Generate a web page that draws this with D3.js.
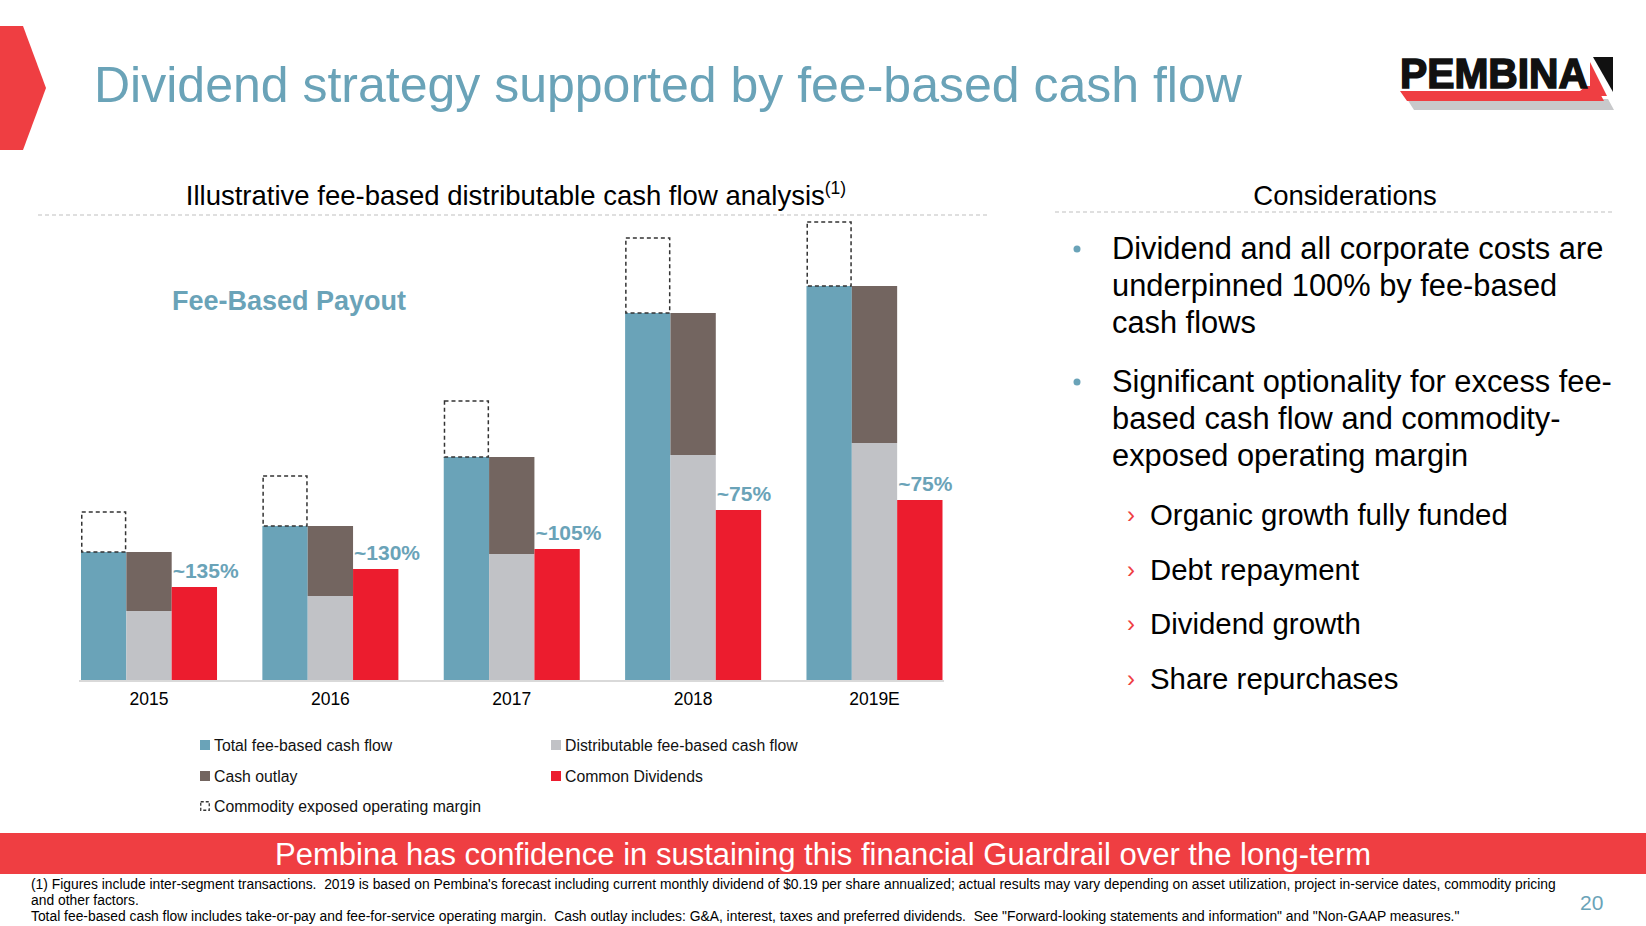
<!DOCTYPE html>
<html>
<head>
<meta charset="utf-8">
<script src="https://cdn.jsdelivr.net/npm/d3@7"></script>
<style>
  body { margin: 0; background: #fff; }
  text { font-family: "Liberation Sans", Arial, sans-serif; }
</style>
</head>
<body>
<div id="slide"></div>
<script>
// chart values (relative units)
const years = ["2015", "2016", "2017", "2018", "2019E"];
const totalFee = [1.29, 1.55, 2.24, 3.68, 3.95];
const distributable = [0.70, 0.85, 1.27, 2.26, 2.38];
const cashOutlay = [0.59, 0.70, 0.97, 1.42, 1.57];
const commodity = [0.40, 0.50, 0.56, 0.75, 0.64];
const dividends = [0.94, 1.12, 1.32, 1.71, 1.81];
const payoutLabels = ["~135%", "~130%", "~105%", "~75%", "~75%"];

const legendItems = [
  {name: "Total fee-based cash flow", key: "teal"},
  {name: "Distributable fee-based cash flow", key: "gray"},
  {name: "Cash outlay", key: "brown"},
  {name: "Common Dividends", key: "red"},
  {name: "Commodity exposed operating margin", key: "dash"}
];

const bullets = [
  ["Dividend and all corporate costs are", "underpinned 100% by fee-based", "cash flows"],
  ["Significant optionality for excess fee-", "based cash flow and commodity-", "exposed operating margin"]
];
const subBullets = ["Organic growth fully funded", "Debt repayment", "Dividend growth", "Share repurchases"];

const footnotes = [
  "(1) Figures include inter-segment transactions.  2019 is based on Pembina's forecast including current monthly dividend of $0.19 per share annualized; actual results may vary depending on asset utilization, project in-service dates, commodity pricing",
  "and other factors.",
  "Total fee-based cash flow includes take-or-pay and fee-for-service operating margin.  Cash outlay includes: G&A, interest, taxes and preferred dividends.  See \"Forward-looking statements and information\" and \"Non-GAAP measures.\""
];

const colors = {teal: "#6aa3b8", gray: "#c1c2c6", brown: "#736560", red: "#ec1c2e"};
const accent = "#6aa3b8";
const bannerRed = "#ef3e42";

const W = 1646, H = 926;
const svg = d3.select("#slide").append("svg")
  .attr("width", W)
  .attr("height", H);

svg.append("rect").attr("width", W).attr("height", H).attr("fill", "#fff");

// header
svg.append("polygon")
  .attr("points", "0,26 23,26 46,88 23,150 0,150")
  .attr("fill", bannerRed);

svg.append("text")
  .attr("x", 94).attr("y", 102)
  .attr("font-size", 50)
  .attr("fill", accent)
  .text("Dividend strategy supported by fee-based cash flow");

// logo
const logo = svg.append("g");
logo.append("polygon").attr("points", "1407,99 1608,99 1614,110 1414,110").attr("fill", "#c8c9cb");
logo.append("polygon").attr("points", "1400,91 1580,91 1586,86 1596,86 1604,101 1407,101").attr("fill", bannerRed);
logo.append("polygon").attr("points", "1593,57 1613,57 1613,92").attr("fill", "#111");
logo.append("polygon").attr("points", "1590,62 1607,96 1590,96").attr("fill", bannerRed);
logo.append("text")
  .attr("x", 1400).attr("y", 88)
  .attr("font-size", 42).attr("font-weight", "bold")
  .attr("fill", "#111").attr("stroke", "#111").attr("stroke-width", 1.6)
  .attr("textLength", 188).attr("lengthAdjust", "spacingAndGlyphs")
  .text("PEMBINA");

// section headings
const chartTitle = svg.append("text")
  .attr("x", 516).attr("y", 205)
  .attr("text-anchor", "middle")
  .attr("font-size", 27.5)
  .attr("fill", "#000");
chartTitle.append("tspan").text("Illustrative fee-based distributable cash flow analysis");
chartTitle.append("tspan").attr("font-size", 17.5).attr("dy", -11).text("(1)");

svg.append("line")
  .attr("x1", 38).attr("x2", 987).attr("y1", 215).attr("y2", 215)
  .attr("stroke", "#bfbfbf").attr("stroke-dasharray", "4,3");

svg.append("text")
  .attr("x", 1345).attr("y", 205)
  .attr("text-anchor", "middle")
  .attr("font-size", 27.5)
  .attr("fill", "#000")
  .text("Considerations");

svg.append("line")
  .attr("x1", 1055).attr("x2", 1615).attr("y1", 212).attr("y2", 212)
  .attr("stroke", "#bfbfbf").attr("stroke-dasharray", "4,3");

// chart
const x0 = d3.scaleBand().domain(years).range([81, 942.5]).paddingInner(0.25);
const x1 = d3.scaleBand().domain(["fee", "dist", "div"]).range([0, x0.bandwidth()]);
const y = d3.scaleLinear().domain([0, 4.6]).range([681, 221]);

const rows = years.map((yr, i) => ({
  year: yr, fee: totalFee[i], dist: distributable[i], outlay: cashOutlay[i],
  comm: commodity[i], div: dividends[i], label: payoutLabels[i]
}));

const groups = svg.append("g").selectAll("g")
  .data(rows)
  .enter().append("g")
  .attr("transform", d => "translate(" + x0(d.year) + ",0)");

groups.append("rect")
  .attr("x", x1("fee")).attr("width", x1.bandwidth())
  .attr("y", d => y(d.fee)).attr("height", d => y(0) - y(d.fee))
  .attr("fill", colors.teal);

groups.append("rect")
  .attr("x", x1("fee") + 0.75).attr("width", x1.bandwidth() - 1.5)
  .attr("y", d => y(d.fee + d.comm)).attr("height", d => y(d.fee) - y(d.fee + d.comm))
  .attr("fill", "none").attr("stroke", "#333").attr("stroke-width", 1.5)
  .attr("stroke-dasharray", "4,3");

groups.append("rect")
  .attr("x", x1("dist")).attr("width", x1.bandwidth())
  .attr("y", d => y(d.dist)).attr("height", d => y(0) - y(d.dist))
  .attr("fill", colors.gray);

groups.append("rect")
  .attr("x", x1("dist")).attr("width", x1.bandwidth())
  .attr("y", d => y(d.dist + d.outlay)).attr("height", d => y(d.dist) - y(d.dist + d.outlay))
  .attr("fill", colors.brown);

groups.append("rect")
  .attr("x", x1("div")).attr("width", x1.bandwidth())
  .attr("y", d => y(d.div)).attr("height", d => y(0) - y(d.div))
  .attr("fill", colors.red);

groups.append("text")
  .attr("x", x1("div") + 1)
  .attr("y", d => y(d.div) - 9)
  .attr("font-size", 21).attr("font-weight", "bold")
  .attr("fill", accent)
  .text(d => d.label);

const xAxis = svg.append("g")
  .attr("transform", "translate(0," + y(0) + ")")
  .call(d3.axisBottom(x0).tickSize(0).tickPadding(12));
xAxis.select(".domain").attr("stroke", "#d9d9d9").attr("stroke-width", 2)
  .attr("d", "M79,0H944");
xAxis.selectAll("text")
  .attr("font-family", "Liberation Sans, Arial, sans-serif")
  .attr("font-size", 17.5).attr("fill", "#000");

svg.append("text")
  .attr("x", 172).attr("y", 310)
  .attr("font-size", 27).attr("font-weight", "bold")
  .attr("fill", accent)
  .text("Fee-Based Payout");

// legend
const legend = svg.append("g").selectAll("g")
  .data(legendItems)
  .enter().append("g")
  .attr("transform", (d, i) => "translate(" + (i % 2 === 0 || i === 4 ? 200 : 551) + "," + [745, 745, 776, 776, 806][i] + ")");

legend.filter(d => d.key !== "dash").append("rect")
  .attr("x", 0).attr("y", -5).attr("width", 10).attr("height", 10)
  .attr("fill", d => colors[d.key]);

legend.filter(d => d.key === "dash").append("rect")
  .attr("x", 0.75).attr("y", -4.25).attr("width", 8.5).attr("height", 8.5)
  .attr("fill", "none").attr("stroke", "#333").attr("stroke-width", 1.3)
  .attr("stroke-dasharray", "3,2");

legend.append("text")
  .attr("x", 14).attr("y", 6)
  .attr("font-family", "Lato, sans-serif")
  .attr("font-size", 15.8).attr("fill", "#111")
  .text(d => d.name);

// considerations list
const bulletTops = [259, 392];
bullets.forEach((lines, b) => {
  svg.append("circle")
    .attr("cx", 1077).attr("cy", bulletTops[b] - 10).attr("r", 3.5)
    .attr("fill", accent);
  svg.append("g").selectAll("text")
    .data(lines)
    .enter().append("text")
    .attr("x", 1112)
    .attr("y", (d, i) => bulletTops[b] + i * 37)
    .attr("font-size", 30.8).attr("fill", "#000")
    .text(d => d);
});

const subs = svg.append("g").selectAll("g")
  .data(subBullets)
  .enter().append("g")
  .attr("transform", (d, i) => "translate(0," + (525 + i * 54.6) + ")");
subs.append("text")
  .attr("x", 1127).attr("y", -2)
  .attr("font-size", 24).attr("fill", bannerRed)
  .text("\u203A");
subs.append("text")
  .attr("x", 1150).attr("y", 0)
  .attr("font-size", 29.4).attr("fill", "#000")
  .text(d => d);

// banner
svg.append("rect")
  .attr("x", 0).attr("y", 833).attr("width", W).attr("height", 41)
  .attr("fill", bannerRed);
svg.append("text")
  .attr("x", 823).attr("y", 865)
  .attr("text-anchor", "middle")
  .attr("font-size", 31).attr("fill", "#fff")
  .text("Pembina has confidence in sustaining this financial Guardrail over the long-term");

// footnotes
svg.append("g").selectAll("text")
  .data(footnotes)
  .enter().append("text")
  .attr("x", 31)
  .attr("y", (d, i) => 889 + i * 16)
  .attr("font-size", 13.85).attr("fill", "#000")
  .style("white-space", "pre")
  .text(d => d);

svg.append("text")
  .attr("x", 1580).attr("y", 910)
  .attr("font-size", 21).attr("fill", accent)
  .text("20");
</script>
</body>
</html>
